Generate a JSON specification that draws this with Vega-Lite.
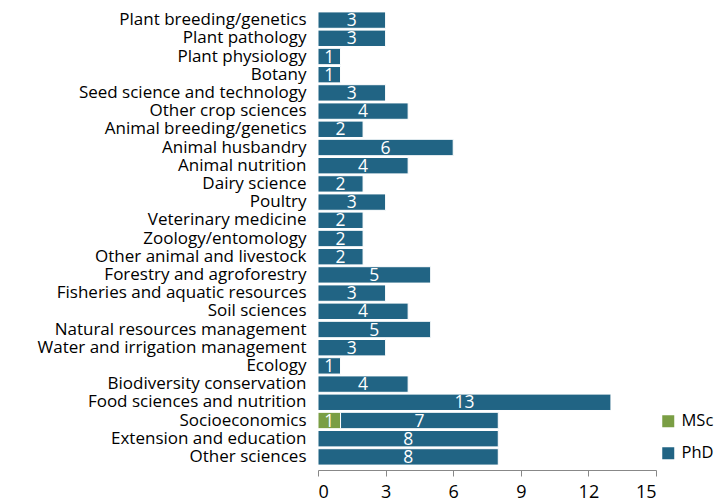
{
  "$schema": "https://vega.github.io/schema/vega-lite/v6.json",
  "autosize": {"type": "none"},
  "padding": {"left": 318, "top": 11, "right": 61, "bottom": 36},
  "width": 338,
  "height": 455,
  "background": "white",
  "config": {"view": {"stroke": null}, "font": "Open Sans"},
  "data": {"values": [
    {"field": "Plant breeding/genetics", "degree": "PhD", "n": 3},
    {"field": "Plant pathology", "degree": "PhD", "n": 3},
    {"field": "Plant physiology", "degree": "PhD", "n": 1},
    {"field": "Botany", "degree": "PhD", "n": 1},
    {"field": "Seed science and technology", "degree": "PhD", "n": 3},
    {"field": "Other crop sciences", "degree": "PhD", "n": 4},
    {"field": "Animal breeding/genetics", "degree": "PhD", "n": 2},
    {"field": "Animal husbandry", "degree": "PhD", "n": 6},
    {"field": "Animal nutrition", "degree": "PhD", "n": 4},
    {"field": "Dairy science", "degree": "PhD", "n": 2},
    {"field": "Poultry", "degree": "PhD", "n": 3},
    {"field": "Veterinary medicine", "degree": "PhD", "n": 2},
    {"field": "Zoology/entomology", "degree": "PhD", "n": 2},
    {"field": "Other animal and livestock", "degree": "PhD", "n": 2},
    {"field": "Forestry and agroforestry", "degree": "PhD", "n": 5},
    {"field": "Fisheries and aquatic resources", "degree": "PhD", "n": 3},
    {"field": "Soil sciences", "degree": "PhD", "n": 4},
    {"field": "Natural resources management", "degree": "PhD", "n": 5},
    {"field": "Water and irrigation management", "degree": "PhD", "n": 3},
    {"field": "Ecology", "degree": "PhD", "n": 1},
    {"field": "Biodiversity conservation", "degree": "PhD", "n": 4},
    {"field": "Food sciences and nutrition", "degree": "PhD", "n": 13},
    {"field": "Socioeconomics", "degree": "MSc", "n": 1},
    {"field": "Socioeconomics", "degree": "PhD", "n": 7},
    {"field": "Extension and education", "degree": "PhD", "n": 8},
    {"field": "Other sciences", "degree": "PhD", "n": 8}
  ]},
  "encoding": {
    "y": {
      "field": "field", "type": "nominal", "sort": null, "title": null,
      "scale": {"paddingInner": 0.1, "paddingOuter": 0.05},
      "axis": {"domain": false, "ticks": false, "labelPadding": 12, "labelFontSize": 17, "labelColor": "#000", "labelFont": "Open Sans", "labelLimit": 400}
    }
  },
  "layer": [
    {
      "mark": {"type": "bar", "stroke": "white", "strokeWidth": 1},
      "encoding": {
        "x": {
          "field": "n", "type": "quantitative", "stack": "zero", "title": null,
          "scale": {"domain": [0, 15], "nice": false},
          "axis": {"values": [0, 3, 6, 9, 12, 15], "grid": false, "offset": 4, "domainColor": "#888", "tickColor": "#888", "tickSize": 6, "labelFontSize": 18, "labelColor": "#000", "labelPadding": 7, "labelFont": "Open Sans"}
        },
        "color": {
          "field": "degree", "type": "nominal", "title": null,
          "scale": {"domain": ["MSc", "PhD"], "range": ["#7a9e44", "#216484"]},
          "legend": {"orient": "none", "legendX": 342, "legendY": 402, "symbolType": "square", "symbolSize": 144, "symbolStrokeWidth": 0, "labelFontSize": 16.5, "labelColor": "#000", "labelFont": "Open Sans", "rowPadding": 15, "labelOffset": 5}
        },
        "order": {"field": "degree"}
      }
    },
    {
      "mark": {"type": "text", "color": "white", "fontSize": 17.5, "font": "Open Sans", "baseline": "middle", "align": "center", "dy": 1},
      "encoding": {
        "x": {"field": "n", "type": "quantitative", "stack": "zero", "bandPosition": 0.5},
        "detail": {"field": "degree"},
        "order": {"field": "degree"},
        "text": {"field": "n", "type": "quantitative"}
      }
    }
  ]
}
